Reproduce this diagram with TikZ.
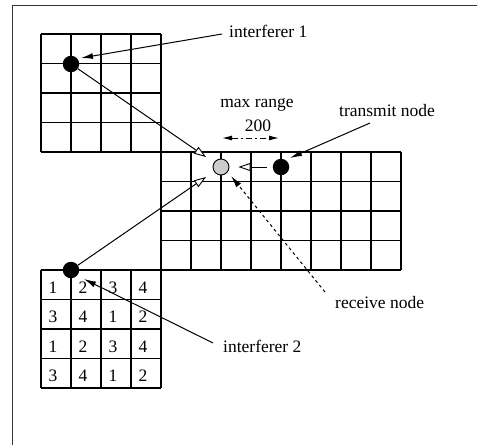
\documentclass[tikz,border=0pt]{standalone}
\usepackage{fontspec}
\setmainfont{Liberation Serif}
\usetikzlibrary{arrows.meta}
\begin{document}
\begin{tikzpicture}[x=1pt,y=-1pt,
  gl/.style={line width=1.3pt},
  frameline/.style={line width=0.9pt,draw=black!80},
  dot/.style={circle,fill=black,inner sep=0pt,minimum size=16.5pt},
  rxnode/.style={circle,draw=black,line width=0.9pt,fill=gray!40,inner sep=0pt,minimum size=16pt},
  lbl/.style={font=\fontsize{17.5}{20}\selectfont,inner sep=0pt},
  num/.style={font=\fontsize{17.5}{20}\selectfont,inner sep=0pt},
  openarr/.style={line width=1pt,-{Triangle[fill=white,length=12pt,width=8pt,line width=0.9pt]}},
  fillarr/.style={line width=1pt,-{Latex[length=12pt,width=6pt]}},
  rangearr/.style={line width=1pt,dash pattern=on 6pt off 3pt on 2pt off 3pt,{Latex[length=10pt,width=5pt]}-{Latex[length=10pt,width=5pt]}},
]
\useasboundingbox (0,0) rectangle (477,445);
% frame
\draw[frameline] (12,445) -- (12,5) -- (477,5);
% top-left grid
\foreach \i in {0,...,4} \draw[gl] (41+30*\i,34) -- (41+30*\i,152);
\foreach \j in {0,...,4} \draw[gl] (41,34+29.5*\j) -- (161,34+29.5*\j);
% middle grid
\foreach \i in {0,...,8} \draw[gl] (161+30*\i,152) -- (161+30*\i,270);
\foreach \j in {0,...,4} \draw[gl] (161,152+29.5*\j) -- (401,152+29.5*\j);
% bottom-left grid
\foreach \i in {0,...,4} \draw[gl] (41+30*\i,270) -- (41+30*\i,388);
\foreach \j in {0,...,4} \draw[gl] (41,270+29.5*\j) -- (161,270+29.5*\j);
% numbers
\foreach \row [count=\j from 0] in {{1,2,3,4},{3,4,1,2},{1,2,3,4},{3,4,1,2}} {
  \foreach \v [count=\i from 0] in \row {
    \node[num,anchor=base] (n\j\i) at (53+30*\i, 293+29.5*\j) {\v};
  }
}
% labels
\node[lbl,anchor=base west] (lab1) at (229,37) {interferer 1};
\node[lbl,anchor=base west] (labtx) at (339,116.5) {transmit node};
\node[lbl,anchor=base west] (labrx) at (335,308) {receive node};
\node[lbl,anchor=base west] (lab2) at (223,352) {interferer 2};
\node[lbl,anchor=base] (labmax) at (257,107) {max range};
\node[lbl,anchor=base] (lab200) at (258,131.5) {200};
% coordinates for connector ends
\coordinate (l1s) at (222,34);
\coordinate (i1t) at (81,58);
\coordinate (a1t) at (206,157);
\coordinate (a2t) at (206,177);
\coordinate (txs) at (370,123);
\coordinate (txt) at (290,158);
\coordinate (rxs) at (325,292);
\coordinate (rxt) at (231,176);
\coordinate (l2s) at (213,343);
\coordinate (i2t) at (84,279);
\coordinate (mrl) at (222,138);
\coordinate (mrr) at (279,138);
% nodes
\node[dot] (i1) at (71,64) {};
\node[dot] (tx) at (281,167) {};
\node[rxnode] (rx) at (221,167) {};
\node[dot] (i2) at (71,270) {};
% connectors
\draw[openarr] (i1) -- (a1t);
\draw[openarr] (i2) -- (a2t);
\draw[openarr,shorten <=6pt,shorten >=9pt] (tx) -- (rx);
\draw[fillarr] (l1s) -- (i1t);
\draw[fillarr] (txs) -- (txt);
\draw[fillarr,dashed] (rxs) -- (rxt);
\draw[fillarr] (l2s) -- (i2t);
\draw[rangearr] (mrl) -- (mrr);
\end{tikzpicture}
\end{document}
